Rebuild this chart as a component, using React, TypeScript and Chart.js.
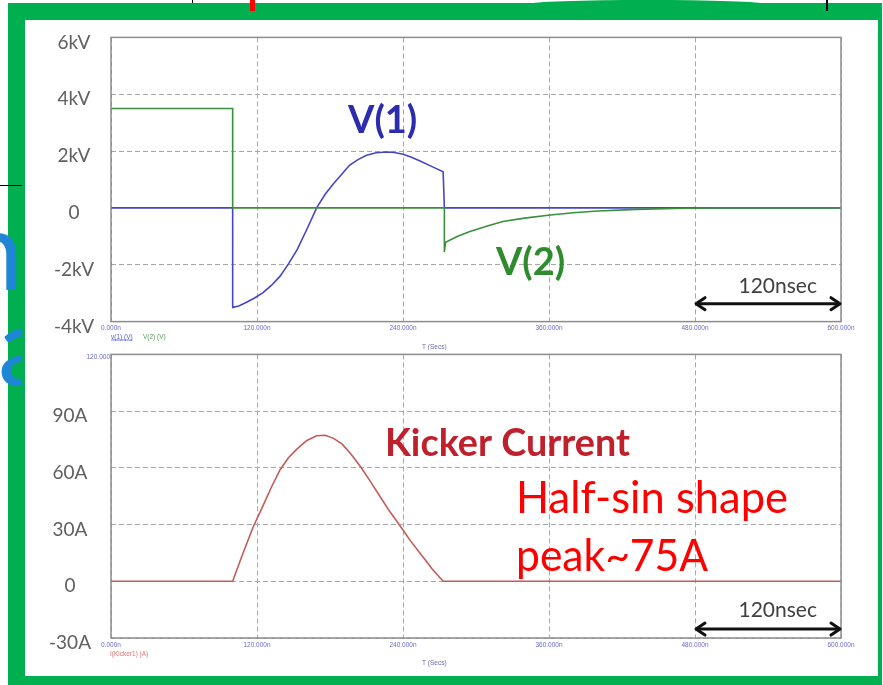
import { useEffect, useRef } from 'react';
import { Chart, registerables } from 'chart.js';

Chart.register(...registerables);

// Shared time axis (ns)
const timeTicks = [0, 120, 240, 360, 480, 600];
const timeTickLabels = ['0.000n', '120.000n', '240.000n', '360.000n', '480.000n', '600.000n'];

// Upper panel: node voltages (kV)
const voltTicks = [-4, -2, 0, 2, 4, 6];
const voltTickLabels = ['-4kV', '-2kV', '0', '2kV', '4kV', '6kV'];

const v1Time = [0, 100, 100, 105, 111, 118, 125, 132, 139, 146, 153, 161, 169, 176, 183, 190, 196, 203, 210, 218, 227, 233, 240, 247, 254, 263, 273, 274, 600];
const v1Kv = [0, 0, -3.5, -3.45, -3.33, -3.17, -2.98, -2.72, -2.4, -1.96, -1.47, -0.75, 0, 0.48, 0.86, 1.2, 1.5, 1.7, 1.85, 1.94, 1.97, 1.95, 1.89, 1.78, 1.65, 1.47, 1.27, 0, 0];

const v2Time = [0, 100, 100, 274, 274, 275, 285, 295, 310, 322, 340, 361, 380, 400, 432, 472, 495, 600];
const v2Kv = [3.5, 3.5, 0, 0, -1.55, -1.21, -1.0, -0.83, -0.63, -0.48, -0.36, -0.25, -0.17, -0.11, -0.05, -0.01, 0, 0];

// Lower panel: kicker current (A)
const currentTicks = [-30, 0, 30, 60, 90, 120];
const currentTickLabels = ['-30A', '0', '30A', '60A', '90A', ''];

const iTime = [0, 100, 108, 117, 125, 132, 139, 146, 153, 161, 169, 176, 183, 190, 197, 205, 213, 221, 229, 238, 246, 255, 264, 273, 600];
const iAmp = [0, 0, 14, 29, 40, 50, 59, 65.5, 70, 74.5, 77, 77.2, 75.6, 72.5, 67.5, 60.7, 53, 45, 37, 29, 21.5, 14, 6.5, 0, 0];

const pts = (xs: number[], ys: number[]) => xs.map((x, i) => ({ x, y: ys[i] }));

type Note = { text: string; x: number; y: number; font: string; color: string; align?: CanvasTextAlign; maxWidth?: number };
type Span = { from: number; to: number; y: number };
type Caption = { text: string; dx: number; dy: number; edge: 'top' | 'bottom'; color: string; align?: CanvasTextAlign; underline?: boolean };

const TINY = '6.5px "Liberation Sans", Arial, sans-serif';

function drawArrow(ctx: CanvasRenderingContext2D, x1: number, x2: number, y: number) {
  ctx.strokeStyle = '#111';
  ctx.lineWidth = 3;
  ctx.lineCap = 'round';
  ctx.lineJoin = 'round';
  ctx.beginPath();
  ctx.moveTo(x1 + 2, y);
  ctx.lineTo(x2 - 2, y);
  ctx.stroke();
  const h = 10, w = 6;
  ctx.beginPath();
  ctx.moveTo(x1 + h, y - w);
  ctx.lineTo(x1 + 1, y);
  ctx.lineTo(x1 + h, y + w);
  ctx.stroke();
  ctx.beginPath();
  ctx.moveTo(x2 - h, y - w);
  ctx.lineTo(x2 - 1, y);
  ctx.lineTo(x2 - h, y + w);
  ctx.stroke();
}

function panelPlugin(notes: Note[], spans: Span[], captions: Caption[]) {
  return {
    id: 'panelDecor',
    afterDatasetsDraw(chart: any) {
      const { ctx, chartArea: a } = chart;
      ctx.save();
      ctx.strokeStyle = '#8c8c8c';
      ctx.lineWidth = 1.5;
      ctx.strokeRect(a.left, a.top, a.right - a.left, a.bottom - a.top);
      ctx.restore();
    },
    afterDraw(chart: any) {
      const { ctx, chartArea: a, scales } = chart;
      const xs = scales.x, ys = scales.y;
      ctx.save();
      ctx.textBaseline = 'alphabetic';
      for (const n of notes) {
        ctx.font = n.font;
        ctx.fillStyle = n.color;
        ctx.textAlign = n.align ?? 'left';
        const px = xs.getPixelForValue(n.x);
        const py = ys.getPixelForValue(n.y);
        if (n.maxWidth) ctx.fillText(n.text, px, py, n.maxWidth);
        else ctx.fillText(n.text, px, py);
      }
      for (const s of spans) {
        drawArrow(ctx, xs.getPixelForValue(s.from), xs.getPixelForValue(s.to), ys.getPixelForValue(s.y));
      }
      ctx.font = TINY;
      for (const c of captions) {
        ctx.fillStyle = c.color;
        ctx.textAlign = c.align ?? 'left';
        const px = a.left + c.dx;
        const py = (c.edge === 'top' ? a.top : a.bottom) + c.dy;
        ctx.fillText(c.text, px, py);
        if (c.underline) {
          const w = ctx.measureText(c.text).width;
          ctx.fillRect(px, py + 1, w, 0.8);
        }
      }
      ctx.restore();
    },
  };
}

function timeScale(axisHeight: number) {
  return {
    type: 'linear',
    min: 0,
    max: 600,
    afterBuildTicks: (s: any) => { s.ticks = timeTicks.map((v) => ({ value: v })); },
    afterFit: (s: any) => { s.height = axisHeight; },
    grid: { color: '#a8a8a8', lineWidth: 1, drawTicks: false },
    border: { display: false, dash: [5, 3] },
    ticks: {
      callback: (v: number) => timeTickLabels[timeTicks.indexOf(v)] ?? '',
      font: { family: '"Liberation Sans", Arial, sans-serif', size: 6.5 },
      color: '#6a6ad6',
      padding: 3,
      maxRotation: 0,
      autoSkip: false,
    },
  };
}

function valueScale(min: number, max: number, ticks: number[], labels: string[], pad: number) {
  return {
    type: 'linear',
    min,
    max,
    afterBuildTicks: (s: any) => { s.ticks = ticks.map((v) => ({ value: v })); },
    afterFit: (s: any) => { s.width = 86; },
    grid: { color: '#a8a8a8', lineWidth: 1, drawTicks: false },
    border: { display: false, dash: [5, 3] },
    ticks: {
      callback: (v: number) => labels[ticks.indexOf(v)] ?? '',
      font: { family: 'Lato, "Open Sans", sans-serif', size: 19 },
      color: '#606060',
      padding: pad,
      crossAlign: 'center',
      labelOffset: 5,
    },
  };
}

const baseOptions = () => ({
  responsive: false,
  animation: false,
  events: [],
  layout: { padding: { left: 0, top: 0, right: 36, bottom: 0 } },
  plugins: { legend: { display: false }, tooltip: { enabled: false } },
  elements: { point: { radius: 0 }, line: { tension: 0 } },
});

export default function App() {
  const topRef = useRef<HTMLCanvasElement>(null);
  const bottomRef = useRef<HTMLCanvasElement>(null);

  useEffect(() => {
    const voltageChart = new Chart(topRef.current as HTMLCanvasElement, {
      type: 'line',
      data: {
        datasets: [
          { label: 'v(1)', data: pts(v1Time, v1Kv), borderColor: '#4646c4', borderWidth: 1.6, order: 1 },
          { label: 'V(2)', data: pts(v2Time, v2Kv), borderColor: '#3a903a', borderWidth: 1.6, order: 0 },
        ],
      },
      options: {
        ...baseOptions(),
        scales: {
          x: timeScale(28),
          y: valueScale(-4, 6, voltTicks, voltTickLabels, 17),
        },
      } as any,
      plugins: [
        panelPlugin(
          [
            { text: 'V(1)', x: 194.8, y: 2.63, font: 'bold 38px Lato, sans-serif', color: '#2c2cb0', maxWidth: 72 },
            { text: 'V(2)', x: 316.4, y: -2.35, font: 'bold 38px Lato, sans-serif', color: '#2e8b2e', maxWidth: 70 },
            { text: '120nsec', x: 548, y: -2.98, font: '21px Lato, sans-serif', color: '#404040', align: 'center', maxWidth: 80 },
          ],
          [{ from: 480, to: 600, y: -3.37 }],
          [
            { text: 'v(1) (V)', dx: 0, dy: 17, edge: 'bottom', color: '#5a5ad0', underline: true },
            { text: 'V(2) (V)', dx: 32, dy: 17, edge: 'bottom', color: '#5a9a5a' },
            { text: 'T (Secs)', dx: 311, dy: 27, edge: 'bottom', color: '#6a6ab0' },
          ],
        ) as any,
      ],
    });

    const currentChart = new Chart(bottomRef.current as HTMLCanvasElement, {
      type: 'line',
      data: {
        datasets: [
          { label: 'I(Kicker1)', data: pts(iTime, iAmp), borderColor: '#c45a5a', borderWidth: 1.6 },
        ],
      },
      options: {
        ...baseOptions(),
        scales: {
          x: timeScale(39),
          y: valueScale(-30, 120, currentTicks, currentTickLabels, 20),
        },
      } as any,
      plugins: [
        panelPlugin(
          [
            { text: 'Kicker Current', x: 225.2, y: 66.1, font: 'bold 38px Lato, sans-serif', color: '#c0202c', maxWidth: 245 },
            { text: 'Half-sin shape', x: 332.9, y: 36.0, font: '44px Lato, sans-serif', color: '#ff0000', maxWidth: 272 },
            { text: 'peak~75A', x: 332.9, y: 5.4, font: '44px Lato, sans-serif', color: '#ff0000', maxWidth: 192 },
            { text: '120nsec', x: 548, y: -18.9, font: '21px Lato, sans-serif', color: '#404040', align: 'center', maxWidth: 80 },
          ],
          [{ from: 480, to: 600, y: -25.3 }],
          [
            { text: '120.000', dx: -1, dy: 5, edge: 'top', color: '#6a6ad6', align: 'right' },
            { text: 'I(Kicker1) (A)', dx: -1, dy: 18, edge: 'bottom', color: '#e07070' },
            { text: 'T (Secs)', dx: 311, dy: 27, edge: 'bottom', color: '#6a6ab0' },
          ],
        ) as any,
      ],
    });

    return () => {
      voltageChart.destroy();
      currentChart.destroy();
    };
  }, []);

  return (
    <div style={{ position: 'absolute', left: 0, top: 0, width: 883, height: 685, overflow: 'hidden', background: '#ffffff' }}>
      {/* slide fragments around the framed figure */}
      <div style={{ position: 'absolute', left: 530, top: 0, width: 234, height: 8, background: '#00b050', borderRadius: '50% 50% 0 0' }} />
      <div style={{ position: 'absolute', left: 8, top: 3, width: 874, height: 682, boxSizing: 'border-box', borderStyle: 'solid', borderColor: '#00b050', borderWidth: '17px 4px 9px 17px', background: '#ffffff' }} />
      <div style={{ position: 'absolute', left: 250, top: 0, width: 5, height: 11, background: '#ff0000' }} />
      <div style={{ position: 'absolute', left: 192, top: 0, width: 1, height: 3, background: '#000' }} />
      <div style={{ position: 'absolute', left: 826, top: 0, width: 2, height: 11, background: '#000' }} />
      <div style={{ position: 'absolute', left: 0, top: 185, width: 22, height: 1, background: '#000' }} />
      <div style={{ position: 'absolute', left: 0, top: 0, width: 22, height: 400, overflow: 'hidden' }}>
        <span style={{ position: 'absolute', left: -38, top: 192, font: '110px Lato, sans-serif', color: '#1f86d6', lineHeight: '110px' }}>n</span>
        <span style={{ position: 'absolute', left: -2, top: 287, font: '110px Lato, sans-serif', color: '#1f86d6', lineHeight: '110px' }}>a</span>
      </div>
      <div style={{ position: 'absolute', left: 25, top: 9, width: 852, height: 341 }}>
        <canvas ref={topRef} width={852} height={341} style={{ display: 'block' }} />
      </div>
      <div style={{ position: 'absolute', left: 25, top: 323, width: 852, height: 354 }}>
        <canvas ref={bottomRef} width={852} height={354} style={{ display: 'block' }} />
      </div>
    </div>
  );
}
